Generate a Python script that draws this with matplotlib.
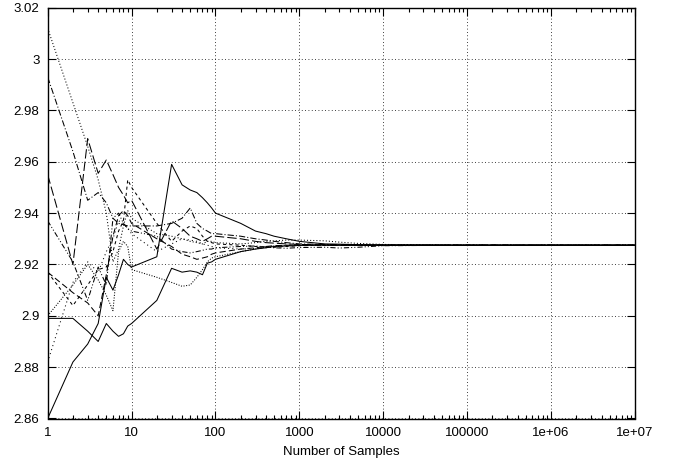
import matplotlib
matplotlib.use("Agg")
import matplotlib.pyplot as plt
from matplotlib.ticker import LogLocator, FixedLocator, NullFormatter

# sample counts at which each running estimate was recorded
samples = [1, 2, 3, 4, 5, 6, 7, 8, 9, 10,
           20, 30, 40, 50, 60, 70, 80, 90, 100,
           200, 300, 400, 500, 700, 1000,
           2000, 3000, 5000, 10000, 100000, 1000000, 10000000]

# running estimates, one list per run
run_a = [2.860, 2.882, 2.889, 2.897, 2.915, 2.910, 2.916, 2.922, 2.920, 2.919,
         2.923, 2.959, 2.951, 2.949, 2.948, 2.946, 2.944, 2.942, 2.940,
         2.936, 2.933, 2.932, 2.931, 2.930, 2.929,
         2.928, 2.9279, 2.9277, 2.9276, 2.9275, 2.9275, 2.9275]
run_b = [2.899, 2.899, 2.894, 2.890, 2.897, 2.894, 2.892, 2.893, 2.896, 2.897,
         2.906, 2.9185, 2.917, 2.9175, 2.917, 2.916, 2.9205, 2.921, 2.922,
         2.925, 2.926, 2.9265, 2.927, 2.9272, 2.9274,
         2.9276, 2.9275, 2.9275, 2.9275, 2.9275, 2.9275, 2.9275]
run_c = [3.012, 2.983, 2.966, 2.953, 2.940, 2.921, 2.926, 2.935, 2.941, 2.938,
         2.932, 2.931, 2.930, 2.929, 2.9285, 2.928, 2.929, 2.929, 2.9285,
         2.928, 2.9285, 2.929, 2.9292, 2.9295, 2.9295,
         2.9292, 2.9287, 2.9282, 2.9278, 2.9275, 2.9275, 2.9275]
run_d = [2.993, 2.964, 2.945, 2.948, 2.944, 2.938, 2.936, 2.9355, 2.935, 2.935,
         2.935, 2.936, 2.938, 2.942, 2.936, 2.934, 2.933, 2.932, 2.932,
         2.931, 2.930, 2.9295, 2.929, 2.9285, 2.928,
         2.9278, 2.9277, 2.9276, 2.9275, 2.9275, 2.9275, 2.9275]
run_e = [2.955, 2.920, 2.969, 2.9555, 2.9607, 2.955, 2.950, 2.947, 2.944, 2.945,
         2.926, 2.937, 2.934, 2.931, 2.930, 2.929, 2.930, 2.931, 2.931,
         2.930, 2.929, 2.9285, 2.9283, 2.928, 2.9278,
         2.9276, 2.9275, 2.9275, 2.9275, 2.9275, 2.9275, 2.9275]
run_f = [2.937, 2.921, 2.906, 2.919, 2.912, 2.938, 2.940, 2.936, 2.934, 2.933,
         2.931, 2.926, 2.925, 2.9245, 2.925, 2.9255, 2.926, 2.926, 2.9265,
         2.927, 2.9272, 2.9268, 2.9265, 2.9263, 2.9266,
         2.9267, 2.9264, 2.9267, 2.9273, 2.9275, 2.9275, 2.9275]
run_g = [2.917, 2.904, 2.912, 2.918, 2.919, 2.925, 2.933, 2.937, 2.953, 2.950,
         2.936, 2.929, 2.933, 2.935, 2.934, 2.931, 2.929, 2.9285, 2.928,
         2.9275, 2.927, 2.9268, 2.9267, 2.927, 2.9273,
         2.9275, 2.9275, 2.9275, 2.9275, 2.9275, 2.9275, 2.9275]
run_h = [2.882, 2.913, 2.921, 2.917, 2.925, 2.930, 2.937, 2.936, 2.934, 2.932,
         2.925, 2.928, 2.930, 2.9295, 2.929, 2.928, 2.9275, 2.927, 2.9265,
         2.926, 2.9262, 2.9265, 2.927, 2.9272, 2.9274,
         2.9275, 2.9275, 2.9275, 2.9275, 2.9275, 2.9275, 2.9275]
run_i = [2.900, 2.912, 2.920, 2.914, 2.908, 2.902, 2.925, 2.929, 2.927, 2.918,
         2.915, 2.913, 2.9115, 2.912, 2.915, 2.918, 2.921, 2.9225, 2.923,
         2.925, 2.926, 2.9268, 2.9272, 2.9274, 2.9276,
         2.9275, 2.9275, 2.9275, 2.9275, 2.9275, 2.9275, 2.9275]
run_j = [2.917, 2.909, 2.905, 2.900, 2.916, 2.931, 2.939, 2.941, 2.939, 2.936,
         2.930, 2.927, 2.924, 2.923, 2.922, 2.9225, 2.923, 2.924, 2.9245,
         2.926, 2.9265, 2.927, 2.9273, 2.9275, 2.9276,
         2.9275, 2.9275, 2.9275, 2.9275, 2.9275, 2.9275, 2.9275]

runs = [run_a, run_b, run_c, run_d, run_e, run_f, run_g, run_h, run_i, run_j]
styles = ["-", "-", (0, (1, 2)), (0, (6, 2, 1, 2)), (0, (9, 3)),
          (0, (5, 2, 1, 2, 1, 2)), (0, (3, 3)), (0, (1, 3)),
          (0, (1, 1.5)), (0, (6, 3))]

y_ticks = [2.86, 2.88, 2.90, 2.92, 2.94, 2.96, 2.98, 3.00, 3.02]
y_labels = ["2.86", "2.88", "2.9", "2.92", "2.94", "2.96", "2.98", "3", "3.02"]
x_ticks = [1, 10, 100, 1000, 10000, 100000, 1000000, 10000000]
x_labels = ["1", "10", "100", "1000", "10000", "100000", "1e+06", "1e+07"]

plt.rcParams["font.family"] = ["Liberation Sans", "DejaVu Sans"]

fig = plt.figure(figsize=(6.78, 4.65), dpi=100)
ax = fig.add_axes([0.0703, 0.1, 0.8663, 0.8834])

for run, ls in zip(runs, styles):
    ax.plot(samples, run, color="black", linestyle=ls, linewidth=0.75)

ax.set_xscale("log")
ax.set_xlim(1, 1e7)
ax.set_ylim(2.86, 3.02)

ax.xaxis.set_major_locator(FixedLocator(x_ticks))
ax.set_xticklabels(x_labels)
ax.xaxis.set_minor_locator(LogLocator(base=10, subs=range(2, 10), numticks=20))
ax.xaxis.set_minor_formatter(NullFormatter())
ax.set_yticks(y_ticks)
ax.set_yticklabels(y_labels)

ax.tick_params(which="both", direction="in", top=True, right=True,
               labelsize=9.5, pad=6, width=0.8)
ax.tick_params(which="major", length=6)
ax.tick_params(which="minor", length=3)

ax.grid(True, which="major", color="black", linestyle=(0, (1, 3)), linewidth=0.6)
for sp in ax.spines.values():
    sp.set_linewidth(1.0)

ax.set_xlabel("Number of Samples", fontsize=9.5, labelpad=5)

fig.savefig("out.png", dpi=100)
